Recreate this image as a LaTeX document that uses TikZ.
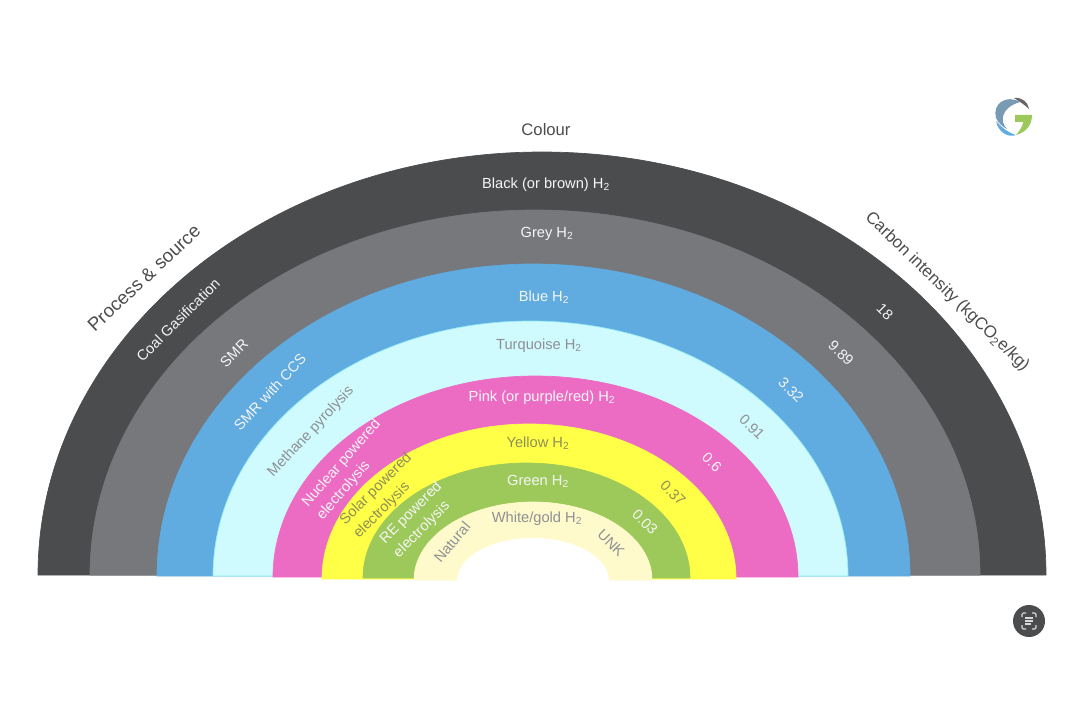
\documentclass[tikz,border=0pt]{standalone}
\usepackage{fontspec}
\setmainfont{Liberation Sans}
\usepackage{xcolor}
\definecolor{ring_black}{HTML}{4B4C4E}
\definecolor{ring_grey}{HTML}{76787B}
\definecolor{ring_blue}{HTML}{60ABE0}
\definecolor{ring_turquoise}{HTML}{CFFBFF}
\definecolor{edge_turquoise}{HTML}{90EAF6}
\definecolor{ring_pink}{HTML}{EC6CC4}
\definecolor{ring_yellow}{HTML}{FFFF48}
\definecolor{ring_green}{HTML}{9CC95A}
\definecolor{ring_gold}{HTML}{FEFACC}
\definecolor{text_grey}{HTML}{8E9094}
\definecolor{text_olive}{HTML}{8F8F55}
\tikzset{
  band_label/.style={font=\fontsize{11}{14.5}\selectfont, inner sep=0pt, align=center},
  side_label/.style={band_label, align=left},
  light_label/.style={text=white!92!gray},
  grey_label/.style={text=text_grey},
  olive_label/.style={text=text_olive},
  outer_label/.style={font=\fontsize{12.5}{14}\selectfont, inner sep=0pt, text=black!70}
}
\newcommand{\Htwo}{H\textsubscript{2}}
\begin{document}
\begin{tikzpicture}[x=0.75pt,y=-0.75pt]
  \useasboundingbox (0,0) rectangle (1084,720);

  % Rings, outermost first
  \foreach \cx/\rx/\ry/\base/\col/\edge in {
      542/504/423/575/ring_black/ring_black,
      535/445/365/575/ring_grey/ring_grey,
      533.5/376.5/312/576/ring_blue/ring_blue,
      530.5/317.5/255/576/ring_turquoise/edge_turquoise,
      535.5/262.5/201/577/ring_pink/ring_pink,
      529/207/155/579/ring_yellow/ring_yellow,
      526.5/163.5/115/578/ring_green/ring_green,
      533/119/78/580/ring_gold/ring_gold} {
    \filldraw [fill=\col, draw=\edge, line width=0.5pt] (\cx-\rx,\base) arc [start angle=180, end angle=360, x radius=\rx, y radius=\ry] -- cycle;
  }
  \fill [white] (457,581) arc [start angle=180, end angle=360, x radius=76, y radius=43] -- cycle;

  % Colour names
  \node (colour) [outer_label] at (546,130) {Colour};
  \node (black) [band_label, light_label] at (546,185) {Black (or brown) \Htwo};
  \node (grey) [band_label, light_label] at (547,234) {Grey \Htwo};
  \node (blue) [band_label, light_label] at (544,297) {Blue \Htwo};
  \node (turquoise) [band_label, grey_label] at (539,346) {Turquoise \Htwo};
  \node (pink) [band_label, light_label] at (542,398) {Pink (or purple/red) \Htwo};
  \node (yellow) [band_label, olive_label] at (538,443) {Yellow \Htwo};
  \node (green) [band_label, light_label] at (538,481) {Green \Htwo};
  \node (gold) [band_label, grey_label] at (537,519) {White/gold \Htwo};

  % Process and source
  \node (process) [outer_label, font=\fontsize{14}{16}\selectfont, rotate=43] at (144,278) {Process \& source};
  \node (coal) [band_label, light_label, rotate=45] at (178,320) {Coal Gasification};
  \node (smr) [band_label, light_label, rotate=45] at (234,353) {SMR};
  \node (ccs) [band_label, light_label, rotate=47] at (270,392) {SMR with CCS};
  \node (methane) [band_label, grey_label, rotate=47] at (311,432) {Methane pyrolysis};
  \node (nuclear) [side_label, light_label, rotate=49] at (349,470) {Nuclear powered\\electrolysis};
  \node (solar) [side_label, olive_label, rotate=45] at (383,496) {Solar powered\\electrolysis};
  \node (re) [side_label, light_label, rotate=45] at (418,520) {RE powered\\electrolysis};
  \node (natural) [band_label, grey_label, rotate=50] at (452,542) {Natural};

  % Carbon intensity
  \node (carbon) [outer_label, font=\fontsize{12.7}{14}\selectfont, rotate=-44] at (947,292) {Carbon intensity (kgCO\textsubscript{2}e/kg)};
  \foreach \nm/\x/\y/\val/\sty in {
      v_black/885/312/18/light_label,
      v_grey/841/353/9.89/light_label,
      v_blue/791/390/3.32/light_label,
      v_turquoise/752/427/0.91/grey_label,
      v_pink/712/462/0.6/light_label,
      v_yellow/673/493/0.37/olive_label,
      v_green/645/522/0.03/light_label,
      v_gold/611/543/UNK/grey_label} {
    \node (\nm) [band_label, \sty, rotate=-45] at (\x,\y) {\val};
  }

  % Logo
  \fill [black!60] (1014,98) .. controls (1022,97) and (1028,102) .. (1029,109) .. controls (1025,105) and (1020,102) .. (1014,98) -- cycle;
  \fill [ring_blue!65!black!70] (1020,102) .. controls (1006,94) and (992,104) .. (996,118) .. controls (998,123) and (1003,127) .. (1007,129) .. controls (1000,122) and (1000,108) .. (1020,102) -- cycle;
  \fill [ring_blue] (996,121) .. controls (998,132) and (1008,138) .. (1016,135) .. controls (1009,133) and (1002,128) .. (996,121) -- cycle;
  \fill [ring_green] (1015,115) -- (1032,115) .. controls (1032,124) and (1027,132) .. (1016,135) .. controls (1021,129) and (1023,125) .. (1023,122) -- (1015,122) -- cycle;

  % Scan button
  \node (scan) [circle, fill=ring_black, minimum size=24pt, inner sep=0pt] at (1029,621) {};
  \draw [white!85!black, line width=0.9pt, rounded corners=1pt]
    (1022,617) |- (1026,613) (1032,613) -| (1036,617)
    (1036,625) |- (1032,629) (1026,629) -| (1022,625);
  \draw [white!85!black, line width=0.9pt] (1025,618) -- (1033,618) (1025,621) -- (1033,621) (1025,624) -- (1031,624);
\end{tikzpicture}
\end{document}
